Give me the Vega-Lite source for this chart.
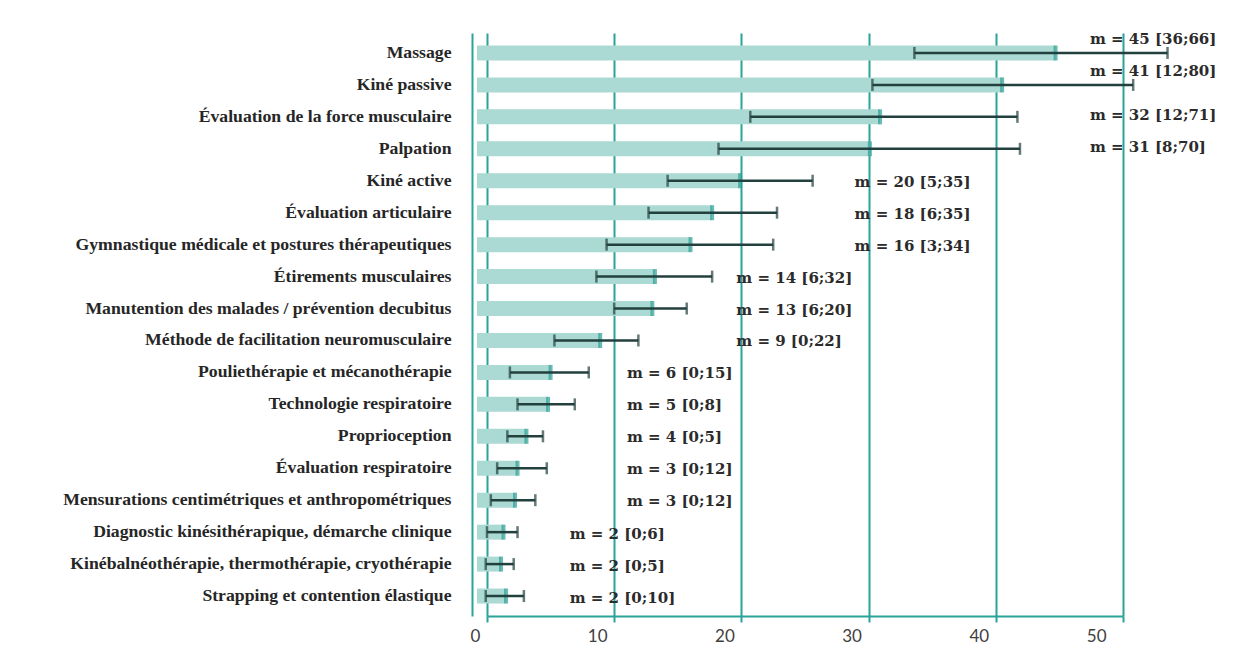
{
  "$schema": "https://vega.github.io/schema/vega-lite/v6.json",
  "autosize": "none",
  "width": 636,
  "height": 583,
  "padding": {"left": 487, "top": 33, "right": 133, "bottom": 52},
  "background": "white",
  "config": {"view": {"stroke": null}},
  "data": {"values": [
    {"activity": "Massage", "mean": 44.7, "low": 33.6, "high": 53.5, "m": 45, "label": "m = 45 [36;66]"},
    {"activity": "Kiné passive", "mean": 40.5, "low": 30.3, "high": 50.8, "m": 41, "label": "m = 41 [12;80]"},
    {"activity": "Évaluation de la force musculaire", "mean": 30.9, "low": 20.7, "high": 41.7, "m": 32, "label": "m = 32 [12;71]"},
    {"activity": "Palpation", "mean": 30.1, "low": 18.2, "high": 41.9, "m": 31, "label": "m = 31 [8;70]"},
    {"activity": "Kiné active", "mean": 19.9, "low": 14.2, "high": 25.6, "m": 20, "label": "m = 20 [5;35]"},
    {"activity": "Évaluation articulaire", "mean": 17.7, "low": 12.7, "high": 22.8, "m": 18, "label": "m = 18 [6;35]"},
    {"activity": "Gymnastique médicale et postures thérapeutiques", "mean": 16.0, "low": 9.4, "high": 22.5, "m": 16, "label": "m = 16 [3;34]"},
    {"activity": "Étirements musculaires", "mean": 13.2, "low": 8.6, "high": 17.7, "m": 14, "label": "m = 14 [6;32]"},
    {"activity": "Manutention des malades / prévention decubitus", "mean": 13.0, "low": 10.0, "high": 15.7, "m": 13, "label": "m = 13 [6;20]"},
    {"activity": "Méthode de facilitation neuromusculaire", "mean": 8.9, "low": 5.3, "high": 11.9, "m": 9, "label": "m = 9 [0;22]"},
    {"activity": "Pouliethérapie et mécanothérapie", "mean": 5.0, "low": 1.8, "high": 8.0, "m": 6, "label": "m = 6 [0;15]"},
    {"activity": "Technologie respiratoire", "mean": 4.8, "low": 2.4, "high": 6.9, "m": 5, "label": "m = 5 [0;8]"},
    {"activity": "Proprioception", "mean": 3.1, "low": 1.6, "high": 4.4, "m": 4, "label": "m = 4 [0;5]"},
    {"activity": "Évaluation respiratoire", "mean": 2.4, "low": 0.8, "high": 4.7, "m": 3, "label": "m = 3 [0;12]"},
    {"activity": "Mensurations centimétriques et anthropométriques", "mean": 2.2, "low": 0.3, "high": 3.8, "m": 3, "label": "m = 3 [0;12]"},
    {"activity": "Diagnostic kinésithérapique, démarche clinique", "mean": 1.3, "low": 0.0, "high": 2.4, "m": 2, "label": "m = 2 [0;6]"},
    {"activity": "Kinébalnéothérapie, thermothérapie, cryothérapie", "mean": 1.1, "low": -0.1, "high": 2.1, "m": 2, "label": "m = 2 [0;5]"},
    {"activity": "Strapping et contention élastique", "mean": 1.5, "low": -0.1, "high": 2.9, "m": 2, "label": "m = 2 [0;10]"}
  ]},
  "encoding": {
    "y": {
      "field": "activity", "type": "nominal", "sort": null, "title": null,
      "scale": {"paddingInner": 0, "paddingOuter": 0.125},
      "axis": {
        "orient": "left", "offset": 15, "domainColor": "#2aa399", "domainWidth": 2,
        "ticks": false, "labelPadding": 21, "labelFont": "Liberation Serif",
        "labelFontWeight": "bold", "labelFontSize": 17.7, "labelColor": "#262626", "labelLimit": 0
      }
    }
  },
  "layer": [
    {
      "mark": {"type": "bar", "height": 15, "color": "#abd9d3", "x2Offset": -10},
      "encoding": {
        "x": {
          "field": "mean", "type": "quantitative", "title": null,
          "scale": {"domain": [0, 50], "nice": false, "zero": true},
          "axis": {
            "values": [0, 10, 20, 30, 40, 50], "grid": true, "gridColor": "#2aa399", "gridWidth": 2,
            "domainColor": "#2aa399", "domainWidth": 2, "ticks": true, "tickColor": "#2aa399",
            "tickWidth": 2, "tickSize": 6, "labelOffset": -17, "labelPadding": 6,
            "labelFont": "Lato", "labelFontSize": 17, "labelColor": "#404040"
          }
        },
        "x2": {"datum": 0}
      }
    },
    {
      "mark": {"type": "tick", "orient": "vertical", "color": "#2b9e93", "thickness": 4, "size": 15},
      "encoding": {"x": {"field": "mean", "type": "quantitative"}}
    },
    {
      "mark": {"type": "rule", "color": "#22403e", "strokeWidth": 2.5},
      "encoding": {"x": {"field": "low", "type": "quantitative"}, "x2": {"field": "high"}}
    },
    {
      "mark": {"type": "tick", "orient": "vertical", "color": "#22403e", "thickness": 2.5, "size": 12},
      "encoding": {"x": {"field": "low", "type": "quantitative"}}
    },
    {
      "mark": {"type": "tick", "orient": "vertical", "color": "#22403e", "thickness": 2.5, "size": 12},
      "encoding": {"x": {"field": "high", "type": "quantitative"}}
    },
    {
      "transform": [{"filter": "datum.m >= 41"}],
      "mark": {"type": "text", "align": "left", "baseline": "middle", "dy": -14, "font": "DejaVu Serif", "fontWeight": "bold", "fontSize": 15, "color": "#2b2b2b"},
      "encoding": {"x": {"datum": 47.4, "type": "quantitative"}, "text": {"field": "label"}}
    },
    {
      "transform": [{"filter": "datum.m >= 30 && datum.m < 41"}],
      "mark": {"type": "text", "align": "left", "baseline": "middle", "dy": -2, "font": "DejaVu Serif", "fontWeight": "bold", "fontSize": 15, "color": "#2b2b2b"},
      "encoding": {"x": {"datum": 47.4, "type": "quantitative"}, "text": {"field": "label"}}
    },
    {
      "transform": [{"filter": "datum.m >= 15 && datum.m < 30"}],
      "mark": {"type": "text", "align": "left", "baseline": "middle", "dy": 1, "font": "DejaVu Serif", "fontWeight": "bold", "fontSize": 15, "color": "#2b2b2b"},
      "encoding": {"x": {"datum": 28.9, "type": "quantitative"}, "text": {"field": "label"}}
    },
    {
      "transform": [{"filter": "datum.m >= 7 && datum.m < 15"}],
      "mark": {"type": "text", "align": "left", "baseline": "middle", "dy": 1, "font": "DejaVu Serif", "fontWeight": "bold", "fontSize": 15, "color": "#2b2b2b"},
      "encoding": {"x": {"datum": 19.6, "type": "quantitative"}, "text": {"field": "label"}}
    },
    {
      "transform": [{"filter": "datum.m >= 3 && datum.m < 7"}],
      "mark": {"type": "text", "align": "left", "baseline": "middle", "dy": 1, "font": "DejaVu Serif", "fontWeight": "bold", "fontSize": 15, "color": "#2b2b2b"},
      "encoding": {"x": {"datum": 11.0, "type": "quantitative"}, "text": {"field": "label"}}
    },
    {
      "transform": [{"filter": "datum.m < 3"}],
      "mark": {"type": "text", "align": "left", "baseline": "middle", "dy": 2, "font": "DejaVu Serif", "fontWeight": "bold", "fontSize": 15, "color": "#2b2b2b"},
      "encoding": {"x": {"datum": 6.5, "type": "quantitative"}, "text": {"field": "label"}}
    }
  ]
}
